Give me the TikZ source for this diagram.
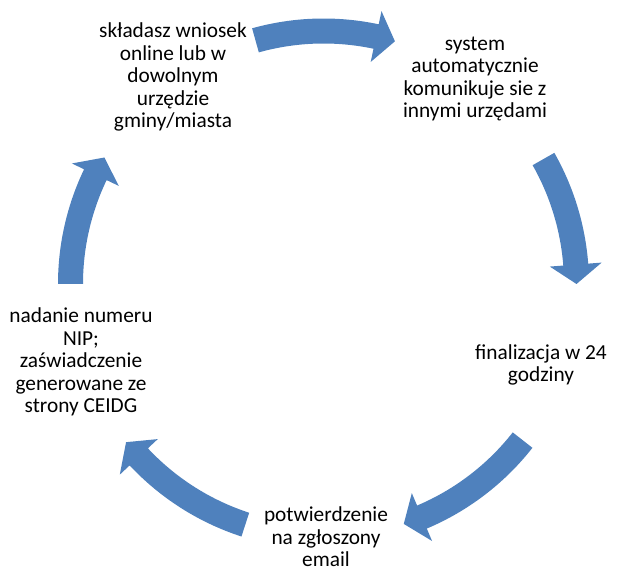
\documentclass[tikz,border=0pt]{standalone}
\usepackage{fontspec}
\setmainfont{Carlito}
\usetikzlibrary{calc}
\definecolor{accentblue}{HTML}{4F81BD}
\tikzset{
  steptext/.style={align=center, font=\fontsize{16}{16.9}\selectfont, inner sep=0pt, text=black},
  cyclefill/.style={fill=accentblue, draw=none},
}
% #1 tail angle, #2 tip angle (clockwise arrow)
\newcommand\cycarrow[2]{%
  \pgfmathsetmacro\hbang{#2+4.4}%
  \path[cyclefill] ($(c)+(#1:199.125pt)$)
    arc[start angle=#1, end angle=\hbang, radius=199.125pt]
    -- ($(c)+(\hbang:209.25pt)$)
    -- ($(c)+(#2:189.75pt)$)
    -- ($(c)+(\hbang:170.25pt)$)
    -- ($(c)+(\hbang:180.375pt)$)
    arc[start angle=\hbang, end angle=#1, radius=180.375pt]
    -- cycle;%
}
\begin{document}
\begin{tikzpicture}[x=0.75pt,y=0.75pt]
\useasboundingbox (0,0) rectangle (636,572);
\coordinate (c) at (323.5,288);

\cycarrow{105.6}{73.6}
\cycarrow{29.6}{0}
\cycarrow{-38.1}{-71.5}
\cycarrow{-108}{-141.3}
\cycarrow{180}{150}

\node[steptext] (t1) at (173,495) {składasz wniosek\\online lub w\\dowolnym\\urzędzie\\gminy/miasta};
\node[steptext] (t2) at (475,493) {system\\automatycznie\\komunikuje sie z\\innymi urzędami};
\node[steptext] (t3) at (541,207) {finalizacja w 24\\godziny};
\node[steptext] (t4) at (326,35) {potwierdzenie\\na zgłoszony\\email};
\node[steptext] (t5) at (81,210) {nadanie numeru\\NIP;\\zaświadczenie\\generowane ze\\strony CEIDG};
\end{tikzpicture}
\end{document}
